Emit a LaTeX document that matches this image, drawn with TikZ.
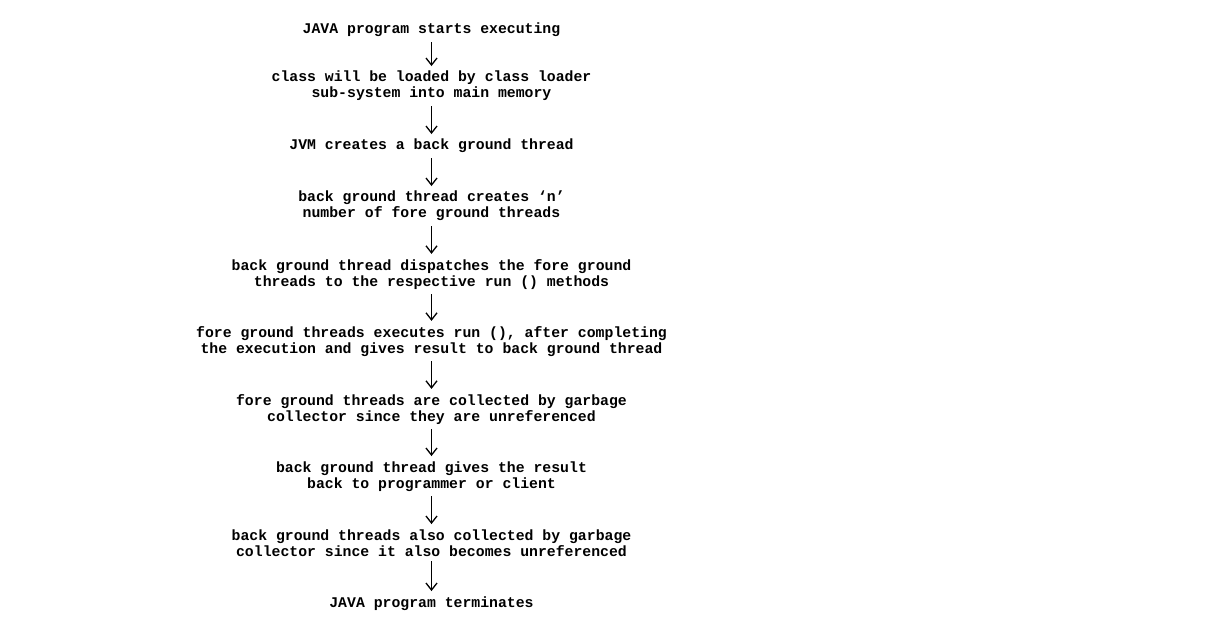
\documentclass[tikz,border=0pt]{standalone}
\usepackage{fontspec}
\setmonofont{Liberation Mono}
\usetikzlibrary{arrows.meta}
\tikzset{
  stage/.style={font=\ttfamily\bfseries\fontsize{14.8}{16}\selectfont,
    align=center, inner xsep=0pt, inner ysep=5pt, anchor=base},
  flow/.style={-{Straight Barb[length=7pt,width=11pt]}, line width=1.3pt}
}
\begin{document}
\begin{tikzpicture}[x=1pt, y=-1pt]
  \useasboundingbox (0,0) rectangle (1206,636);
  % anchor=base sits on the last line of each node
  \draw
    (431.5,34) node[stage] (s1) {JAVA program starts executing}
    (431.5,98) node[stage] (s2) {class will be loaded by class loader\\sub-system into main memory}
    (431.5,150) node[stage] (s3) {JVM creates a back ground thread}
    (431.5,218) node[stage] (s4) {back ground thread creates ‘n’\\number of fore ground threads}
    (431.5,286) node[stage] (s5) {back ground thread dispatches the fore ground\\threads to the respective run () methods}
    (431.5,353) node[stage] (s6) {fore ground threads executes run (), after completing\\the execution and gives result to back ground thread}
    (431.5,421) node[stage] (s7) {fore ground threads are collected by garbage\\collector since they are unreferenced}
    (431.5,488) node[stage] (s8) {back ground thread gives the result\\back to programmer or client}
    (431.5,556) node[stage] (s9) {back ground threads also collected by garbage\\collector since it also becomes unreferenced}
    (431.5,607) node[stage] (s10) {JAVA program terminates};
  \begin{scope}[flow]
    \draw (s1) to (s2);
    \draw (s2) to (s3);
    \draw (s3) to (s4);
    \draw (s4) to (s5);
    \draw (s5) to (s6);
    \draw (s6) to (s7);
    \draw (s7) to (s8);
    \draw (s8) to (s9);
    \draw (s9) to (s10);
  \end{scope}
\end{tikzpicture}
\end{document}
